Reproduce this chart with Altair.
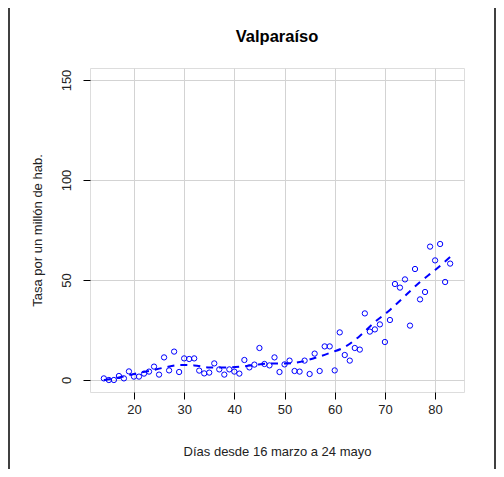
import altair as alt
import pandas as pd

days = list(range(14, 84))
rates = [0.8, 0, 0, 2, 0.8, 4.3, 1.7, 1.7, 3.2, 4.2,
         6.7, 2.7, 11.3, 4.8, 14.2, 4, 10.8, 10.5, 10.8, 4.7,
         3.3, 3.7, 8.3, 5.3, 2.7, 5.3, 4.2, 3.2, 10, 6.3,
         7.7, 16, 8, 7.3, 11.3, 4, 7.8, 9.7, 4.5, 4.2,
         9.7, 3, 13.2, 4.5, 16.8, 16.8, 4.8, 23.8, 12.5, 9.7,
         16, 15.2, 33.3, 24.2, 25.3, 27.8, 19, 30, 48, 46.2,
         50.3, 27.2, 55.5, 40.3, 44, 66.7, 59.8, 68, 49, 58.2]

curve_days = [14, 17, 20, 23, 26, 29, 32, 35, 38, 41, 44, 47, 50, 53,
              56, 59, 62, 65, 68, 71, 74, 77, 80, 83]
curve_vals = [0, 1.2, 3, 4.5, 6.2, 7.5, 7.3, 6.3, 6.2, 6.6, 7.5, 8.2, 8.2, 9,
              11, 13.5, 16.5, 22, 29, 35, 42, 49, 55, 61.5]

x_ticks = [20, 30, 40, 50, 60, 70, 80]
y_ticks = [0, 50, 100, 150]
title_text = "Valparaíso"

pts = pd.DataFrame({"dia": days, "tasa": rates})
cur = pd.DataFrame({"dia": curve_days, "tasa": curve_vals})

FONT = "Liberation Sans"
FS = 13

xscale = alt.Scale(domain=[11.24, 85.76], nice=False, zero=False)
yscale = alt.Scale(domain=[-6, 156], nice=False, zero=False)

xaxis = alt.Axis(values=x_ticks, title="Días desde 16 marzo a 24 mayo",
                 domain=False, grid=True, gridColor="#d3d3d3", gridWidth=1,
                 tickColor="#000", tickSize=7, labelPadding=4,
                 labelFont=FONT, labelFontSize=FS, labelColor="#222",
                 titleFont=FONT, titleFontSize=FS, titleFontWeight="normal",
                 titleColor="#222", titleY=59, titleBaseline="middle")
yaxis = alt.Axis(values=y_ticks, title="Tasa por un millón de hab.",
                 domain=False, grid=True, gridColor="#d3d3d3", gridWidth=1,
                 tickColor="#000", tickSize=7, labelAngle=270,
                 labelAlign="center", labelBaseline="bottom", labelPadding=10,
                 labelFont=FONT, labelFontSize=FS, labelColor="#222",
                 titleFont=FONT, titleFontSize=FS, titleFontWeight="normal",
                 titleColor="#222", titleAngle=270, titleX=-53, titleY=162,
                 titleAlign="center", titleBaseline="middle")

points = alt.Chart(pts).mark_point(filled=False, color="#0000ff", size=28,
                                   strokeWidth=1, opacity=1).encode(
    x=alt.X("dia:Q", scale=xscale, axis=xaxis),
    y=alt.Y("tasa:Q", scale=yscale, axis=yaxis),
)

line = alt.Chart(cur).mark_line(color="#0000ff", strokeWidth=2,
                                strokeDash=[7, 6], interpolate="monotone").encode(
    x=alt.X("dia:Q", scale=xscale),
    y=alt.Y("tasa:Q", scale=yscale),
)

one = alt.Data(values=[{"t": title_text}])
title_mark = alt.Chart(one).mark_text(font=FONT, fontSize=16.5, fontWeight="bold",
                                      color="#000", align="center",
                                      baseline="middle").encode(
    text="t:N", x=alt.value(187), y=alt.value(-31))
left_frame = alt.Chart(one).mark_rule(color="#000", strokeWidth=1.5).encode(
    x=alt.value(-81), y=alt.value(-60), y2=alt.value(401))
right_frame = alt.Chart(one).mark_rule(color="#000", strokeWidth=1.5).encode(
    x=alt.value(405), y=alt.value(-60), y2=alt.value(401))

chart = alt.layer(line, points, title_mark, left_frame, right_frame).properties(
    width=374, height=324,
    autosize=alt.AutoSizeParams(type="none"),
    padding={"left": 82, "top": 60, "right": 32, "bottom": 77},
).configure_view(stroke="#222", strokeWidth=1).configure(background="white")

chart.save("out.html", embed_options={"renderer": "svg", "actions": False})
